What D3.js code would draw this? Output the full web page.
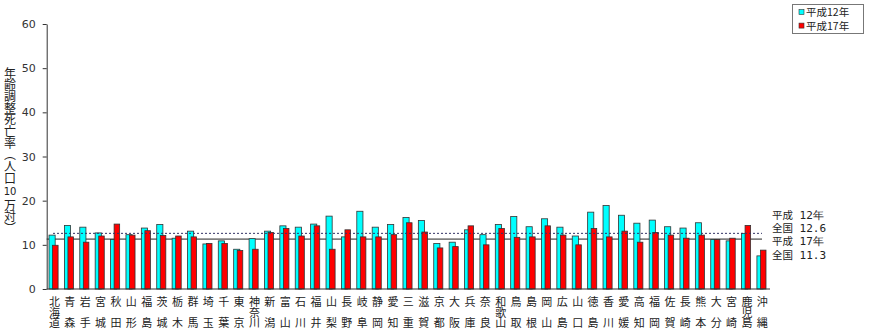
<!DOCTYPE html>
<html><head><meta charset="utf-8">
<script src="https://cdn.jsdelivr.net/npm/d3@7"></script>
<style>
html,body{margin:0;padding:0;background:#fff;}
svg{display:block;}
</style></head>
<body>
<svg id="c" width="869" height="332"></svg>
<script>
const prefectures = ["北海道","青森","岩手","宮城","秋田","山形","福島","茨城","栃木","群馬","埼玉","千葉","東京","神奈川","新潟","富山","石川","福井","山梨","長野","岐阜","静岡","愛知","三重","滋賀","京都","大阪","兵庫","奈良","和歌山","鳥取","島根","岡山","広島","山口","徳島","香川","愛媛","高知","福岡","佐賀","長崎","熊本","大分","宮崎","鹿児島","沖縄"];
const h12 = [12.2,14.4,14.0,12.7,11.2,12.3,13.8,14.6,11.5,13.1,10.2,10.9,9.0,11.4,13.1,14.3,14.0,14.7,16.5,11.8,17.6,14.0,14.6,16.2,15.5,10.3,10.6,13.4,12.3,14.6,16.4,14.1,15.9,14.0,12.0,17.4,18.9,16.7,14.9,15.6,14.1,13.8,15.0,11.2,10.9,12.6,7.5];
const h17 = [9.9,11.8,10.6,12.0,14.7,12.2,13.2,12.1,12.0,11.8,10.3,10.3,8.7,9.0,12.8,13.7,12.0,14.3,9.0,13.4,11.8,11.8,12.3,15.0,12.9,9.3,9.6,14.3,10.0,13.7,11.7,11.8,14.3,12.2,10.0,13.7,11.8,13.1,10.6,12.8,12.2,11.5,12.2,11.2,11.5,14.4,8.8];
const seriesNames = ["平成12年","平成17年"];
const seriesColors = ["#00FFFF","#FF0000"];
const national = [12.6, 11.3];
const yTicks = [0,10,20,30,40,50,60];
const yTitleTop = ["年","齢","調","整","死","亡","率","（","人","口"];
const yTitleNum = "10";
const yTitleBottom = ["万","対","）"];
const noteLines = [["平成"," 12年"],["全国"," 12.6"],["平成"," 17年"],["全国"," 11.3"]];

const svg = d3.select("#c");
const jp = "'Noto Sans CJK JP','Noto Sans',sans-serif";

const x = d3.scaleBand().domain(prefectures).range([46.7, 770]).padding(0);
const y = d3.scaleLinear().domain([0,60]).range([289, 24]);
const bw = x.bandwidth();

// national average line (H17, solid)
svg.append("line").attr("x1", 46.7).attr("x2", 762).attr("y1", y(national[1])).attr("y2", y(national[1]))
  .attr("stroke","#222").attr("stroke-width",1);

// bars
const g = svg.append("g");
prefectures.forEach((p,i)=>{
  const x0 = x(p);
  g.append("rect").attr("x", x0 + bw*0.15).attr("width", bw*0.40)
    .attr("y", y(h12[i])).attr("height", y(0)-y(h12[i]))
    .attr("fill", seriesColors[0]).attr("stroke","#333").attr("stroke-width",0.8);
  g.append("rect").attr("x", x0 + bw*0.38).attr("width", bw*0.36)
    .attr("y", y(h17[i])).attr("height", y(0)-y(h17[i]))
    .attr("fill", seriesColors[1]).attr("stroke","#333").attr("stroke-width",0.8);
});

// national average line (H12, dashed)
svg.append("line").attr("x1", 53).attr("x2", 762).attr("y1", y(national[0])).attr("y2", y(national[0]))
  .attr("stroke","#333366").attr("stroke-width",1).attr("stroke-dasharray","2,2");

// y axis
const yAxis = d3.axisLeft(y).tickValues(yTicks).tickSize(4).tickSizeOuter(0).tickPadding(7);
const ya = svg.append("g").attr("transform","translate(46.7,0)").call(yAxis);
ya.select(".domain").attr("stroke","#333");
ya.selectAll(".tick line").attr("stroke","#333");
ya.selectAll(".tick text").attr("font-family","'DejaVu Sans',sans-serif").attr("font-size",11).attr("fill","#333");

// baseline
svg.append("line").attr("x1",46.7).attr("x2",770).attr("y1",y(0)).attr("y2",y(0)).attr("stroke","#333");

// x labels: vertical writing, one glyph per row
const rowTop = [296.5, 307, 317.5];
prefectures.forEach(p=>{
  const chars = Array.from(p);
  const rows = chars.length === 3 ? [0,1,2] : (chars.length===2 ? [0,2] : [0]);
  const t = svg.append("text").attr("font-family",jp).attr("font-size",11).attr("fill","#222")
    .style("writing-mode","vertical-rl");
  chars.forEach((ch,j)=>{
    t.append("tspan").attr("x", x(p)+bw/2).attr("y", rowTop[rows[j]]).text(ch);
  });
});

// y title (vertical writing, one glyph per cell)
const titleStep = 11.7;
const tt1 = svg.append("text").attr("font-family",jp).attr("font-size",12).attr("fill","#222")
  .style("writing-mode","vertical-rl");
yTitleTop.forEach((ch,i)=>{
  tt1.append("tspan").attr("x",10).attr("y",67 + i*titleStep).text(ch);
});
svg.append("text").attr("x",10).attr("y",194.5).attr("text-anchor","middle")
  .attr("font-family","'DejaVu Sans',sans-serif").attr("font-size",10).attr("fill","#222").text(yTitleNum);
const tt2 = svg.append("text").attr("font-family",jp).attr("font-size",12).attr("fill","#222")
  .style("writing-mode","vertical-rl");
yTitleBottom.forEach((ch,i)=>{
  tt2.append("tspan").attr("x",10).attr("y",199 + i*titleStep).text(ch);
});

// right-side notes
const noteY = [218.5, 231.9, 245.3, 258.7];
noteLines.forEach((ln,i)=>{
  const t = svg.append("text").attr("x",772).attr("y",noteY[i]).attr("font-size",10.5).attr("fill","#222")
    .attr("font-family",jp).attr("xml:space","preserve");
  t.append("tspan").text(ln[0]);
  t.append("tspan").attr("font-family","'DejaVu Sans Mono',monospace").attr("font-size",11).text(ln[1]);
});

// legend
const lg = svg.append("g");
lg.append("rect").attr("x",792.5).attr("y",4.5).attr("width",71).attr("height",29)
  .attr("fill","#fff").attr("stroke","#777").attr("stroke-width",1);
seriesNames.forEach((s,i)=>{
  const yy = 12 + i*13.6;
  lg.append("rect").attr("x",799).attr("y",yy-2.5).attr("width",5).attr("height",5)
    .attr("fill",seriesColors[i]).attr("stroke","#333").attr("stroke-width",0.6);
  lg.append("text").attr("x",806).attr("y",yy+4).attr("font-family",jp).attr("font-size",10.5).attr("fill","#222").text(s);
});
</script>
</body></html>
